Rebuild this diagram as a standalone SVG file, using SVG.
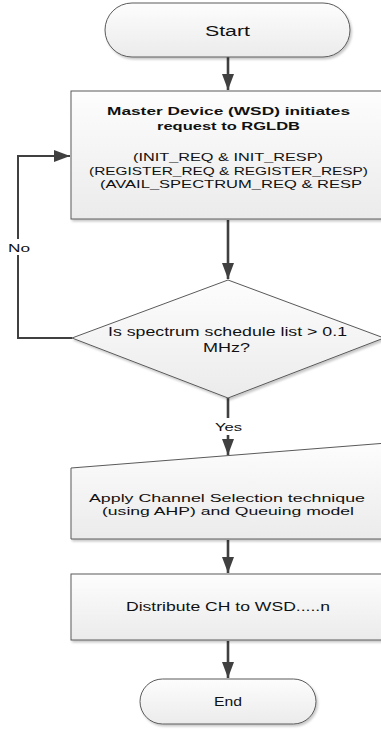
<svg xmlns="http://www.w3.org/2000/svg" width="381" height="729" viewBox="0 0 381 729">
<style>
.shape{stroke:#5a5a5a;stroke-width:1;fill:url(#g);filter:url(#sh)}
.t{font-family:"Liberation Sans",Arial,sans-serif;font-size:11px;fill:#111;}
.b{font-weight:bold;}
.c{stroke:#404040;stroke-width:2.6;fill:none}
.c2{stroke:#404040;stroke-width:2;fill:none}
</style>
<defs>
<linearGradient id="g" x1="0" y1="0" x2="0" y2="1">
<stop offset="0" stop-color="#fdfdfd"/>
<stop offset="1" stop-color="#ebebeb"/>
</linearGradient>
<filter id="sh" x="-10%" y="-10%" width="130%" height="130%">
<feDropShadow dx="1.5" dy="2" stdDeviation="1" flood-color="#000" flood-opacity="0.22"/>
</filter>
<marker id="ah" markerUnits="userSpaceOnUse" markerWidth="17" markerHeight="12" viewBox="0 0 17 12" refX="16" refY="6" orient="auto">
<path d="M0,0 L16,6 L0,12 Z" fill="#404040"/>
</marker>
</defs>
<g id="connectors">
<line class="c" x1="228" y1="57" x2="228" y2="90" marker-end="url(#ah)"/>
<line class="c" x1="228" y1="220" x2="228" y2="279" marker-end="url(#ah)"/>
<line class="c" x1="228" y1="398" x2="228" y2="455" marker-end="url(#ah)"/>
<line class="c" x1="228" y1="540" x2="228" y2="573" marker-end="url(#ah)"/>
<line class="c" x1="228" y1="641" x2="228" y2="678" marker-end="url(#ah)"/>
<polyline class="c2" points="72,338 18,338 18,156 70,156" marker-end="url(#ah)"/>
<rect x="5" y="239" width="28" height="16" fill="#fff"/>
<text class="t" x="8" y="251.5" textLength="22" lengthAdjust="spacingAndGlyphs">No</text>
<rect x="212" y="418" width="33" height="17" fill="#fff"/>
<text class="t" x="215" y="431" textLength="27" lengthAdjust="spacingAndGlyphs">Yes</text>
</g>
<g id="start">
<rect class="shape" x="105" y="3" width="245" height="54" rx="27" ry="27"/>
<text class="t" x="205" y="35.5" style="font-size:14px" textLength="45" lengthAdjust="spacingAndGlyphs">Start</text>
</g>
<g id="request">
<rect class="shape" x="71" y="91" width="316" height="128"/>
<text class="t b" x="107" y="115" textLength="243" lengthAdjust="spacingAndGlyphs">Master Device (WSD) initiates</text>
<text class="t b" x="157" y="130" textLength="143" lengthAdjust="spacingAndGlyphs">request to RGLDB</text>
<text class="t" x="133" y="161" textLength="190" lengthAdjust="spacingAndGlyphs">(INIT_REQ &amp; INIT_RESP)</text>
<text class="t" x="89" y="174.5" textLength="279" lengthAdjust="spacingAndGlyphs">(REGISTER_REQ &amp; REGISTER_RESP)</text>
<text class="t" x="100" y="188" textLength="262" lengthAdjust="spacingAndGlyphs">(AVAIL_SPECTRUM_REQ &amp; RESP</text>
</g>
<g id="decision">
<polygon class="shape" points="228,280 384,338 228,398 72,338"/>
<text class="t" x="108" y="336" style="font-size:12.5px" textLength="239" lengthAdjust="spacingAndGlyphs">Is spectrum schedule list &gt; 0.1</text>
<text class="t" x="203" y="352" style="font-size:12.5px" textLength="47" lengthAdjust="spacingAndGlyphs">MHz?</text>
</g>
<g id="select">
<polygon class="shape" points="71,468 387,443 387,539 71,539"/>
<text class="t" x="89" y="501.5" style="font-size:11.5px" textLength="276" lengthAdjust="spacingAndGlyphs">Apply Channel Selection technique</text>
<text class="t" x="102" y="514.5" style="font-size:11.5px" textLength="252" lengthAdjust="spacingAndGlyphs">(using AHP) and Queuing model</text>
</g>
<g id="distribute">
<rect class="shape" x="71" y="574" width="316" height="66"/>
<text class="t" x="126" y="611" style="font-size:12px" textLength="204" lengthAdjust="spacingAndGlyphs">Distribute CH to WSD.....n</text>
</g>
<g id="end">
<rect class="shape" x="140" y="679" width="176" height="45" rx="22.5" ry="22.5"/>
<text class="t" x="214" y="706" style="font-size:12.5px" textLength="28" lengthAdjust="spacingAndGlyphs">End</text>
</g>
</svg>
